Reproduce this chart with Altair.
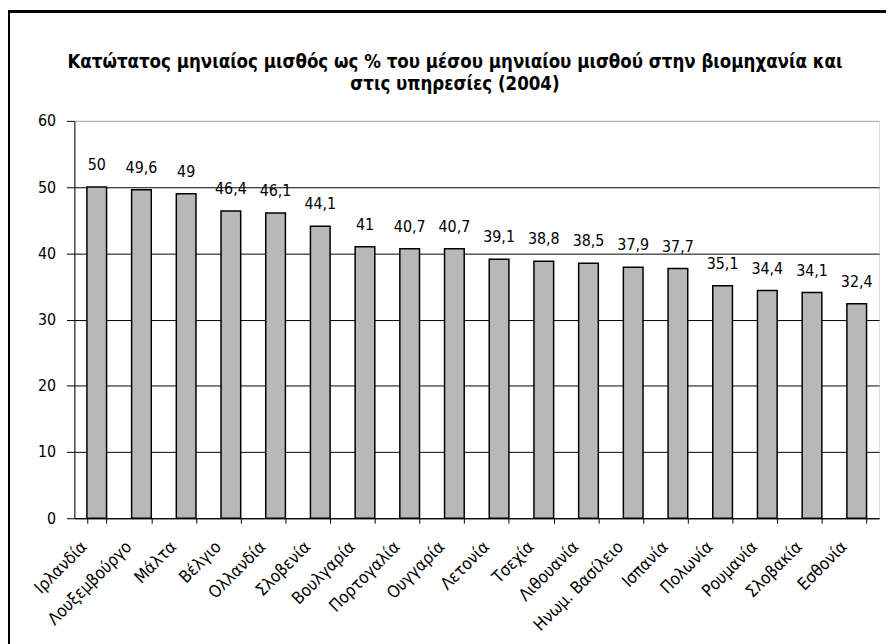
import altair as alt
import pandas as pd

countries = ["Ιρλανδία", "Λουξεμβούργο", "Μάλτα", "Βέλγιο", "Ολλανδία", "Σλοβενία",
             "Βουλγαρία", "Πορτογαλία", "Ουγγαρία", "Λετονία", "Τσεχία", "Λιθουανία",
             "Ηνωμ. Βασίλειο", "Ισπανία", "Πολωνία", "Ρουμανία", "Σλοβακία", "Εσθονία"]
values = [50, 49.6, 49, 46.4, 46.1, 44.1, 41, 40.7, 40.7, 39.1, 38.8, 38.5,
          37.9, 37.7, 35.1, 34.4, 34.1, 32.4]
y_ticks = [0, 10, 20, 30, 40, 50, 60]
title_lines = ["Κατώτατος μηνιαίος μισθός ως % του μέσου μηνιαίου μισθού στην βιομηχανία και",
               "στις υπηρεσίες (2004)"]

df = pd.DataFrame({"country": countries, "value": values})
df["label"] = [str(v).replace(".", ",") for v in values]

FONT = "Liberation Sans Narrow, DejaVu Sans Condensed, Liberation Sans, sans-serif"

x_enc = alt.X("country:N", sort=countries, title=None,
              scale=alt.Scale(paddingInner=0.56, paddingOuter=0.28),
              axis=alt.Axis(labelAngle=-45, labelAlign="right", labelBaseline="middle",
                            labelFont=FONT, labelFontSize=17, labelColor="black",
                            labelOffset=-13, labelPadding=21,
                            tickBand="extent", tickSize=5, tickColor="black",
                            domainColor="black", grid=False))
y_enc = alt.Y("value:Q", title=None,
              scale=alt.Scale(domain=[0, 60], nice=False),
              axis=alt.Axis(values=y_ticks, labelFont=FONT, labelFontSize=16,
                            labelColor="black", tickSize=8, tickColor="black",
                            labelPadding=11, domainColor="black",
                            gridColor={"condition": {"test": "datum.value === 60", "value": "#a6a6a6"},
                                       "value": "black"},
                            gridWidth=1))

bars = alt.Chart(df).mark_bar(color="#b8b8b8", stroke="black", strokeWidth=1.5).encode(
    x=x_enc, y=y_enc)

labels = alt.Chart(df).mark_text(font=FONT, fontSize=16, baseline="bottom", dy=-14,
                                 color="black").encode(
    x=alt.X("country:N", sort=countries),
    y=alt.Y("value:Q"),
    text="label:N")

frame = alt.Chart(df).mark_rect(fill=None, stroke="black", strokeWidth=2).encode(
    x=alt.value(-66), x2=alt.value(900), y=alt.value(-110), y2=alt.value(700))

title_df = pd.DataFrame({"line": title_lines, "row": [0, 1]})
title1 = alt.Chart(title_df).transform_filter("datum.row == 0").mark_text(
    font=FONT, fontSize=18.7, fontWeight="bold", color="black", align="center",
    baseline="alphabetic").encode(text="line:N", x=alt.value(384), y=alt.value(-53))
title2 = alt.Chart(title_df).transform_filter("datum.row == 1").mark_text(
    font=FONT, fontSize=18.7, fontWeight="bold", color="black", align="center",
    baseline="alphabetic").encode(text="line:N", x=alt.value(384), y=alt.value(-31))

chart = alt.layer(bars, labels, frame, title1, title2).properties(
    width=812, height=401,
    padding={"left": 67, "top": 111, "right": 7, "bottom": 124},
    autosize=alt.AutoSizeParams(type="none"),
).configure_view(stroke="#a6a6a6", strokeWidth=1.5, fill="#ebebeb"
).configure(background="white")

chart.save("out.html", embed_options={"renderer": "svg", "actions": False})
